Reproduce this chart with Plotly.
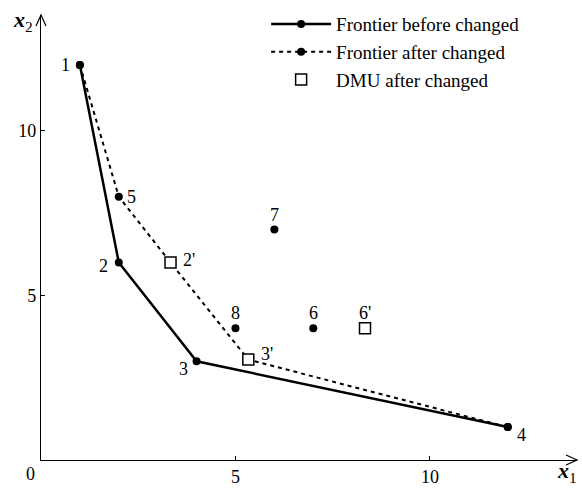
import plotly.graph_objects as go

# Data
before_x = [1, 2, 4, 12]
before_y = [12, 6, 3, 1]
after_x = [1, 2, 3.33, 5.33, 12]
after_y = [12, 8, 6, 3.05, 1]
dmu_new_x = [3.33, 5.33, 8.33]
dmu_new_y = [6, 3.05, 4]
other_x = [5, 6, 7]
other_y = [4, 7, 4]

label_text = ["1", "2", "3", "4", "5", "2'", "3'", "6'", "8", "7", "6"]
label_x = [1, 2, 4, 12, 2, 3.33, 5.33, 8.33, 5, 6, 7]
label_y = [12, 6, 3, 1, 8, 6, 3.05, 4, 4, 7, 4]
label_dx = [-14, -15, -13, 14, 13, 18, 19, 0, 0, 0, 0]
label_dy = [0, -3, -8, -8, 0, 3, 6, 15, 15, 15, 15]

SERIF = "Liberation Serif"
fig = go.Figure()

fig.add_trace(go.Scatter(
    x=before_x, y=before_y, mode="lines+markers", name="Frontier before changed",
    line=dict(color="black", width=2.5), marker=dict(color="black", size=8)))
fig.add_trace(go.Scatter(
    x=after_x, y=after_y, mode="lines+markers", name="Frontier after changed",
    line=dict(color="black", width=2, dash="4px,4px"),
    marker=dict(color="black", size=8)))
fig.add_trace(go.Scatter(
    x=other_x, y=other_y, mode="markers", showlegend=False,
    marker=dict(color="black", size=8)))
fig.add_trace(go.Scatter(
    x=dmu_new_x, y=dmu_new_y, mode="markers", name="DMU after changed",
    marker=dict(symbol="square", color="white", size=11,
                line=dict(color="black", width=1.5))))

for t, x, y, dx, dy in zip(label_text, label_x, label_y, label_dx, label_dy):
    fig.add_annotation(x=x, y=y, text=t, showarrow=False, xshift=dx, yshift=dy,
                       font=dict(family=SERIF, size=18, color="black"))

# origin label and axis titles
fig.add_annotation(x=0, y=0, xref="x", yref="y", text="0", showarrow=False,
                   xshift=-11, yshift=-14, font=dict(family=SERIF, size=18, color="black"))
fig.add_annotation(x=0, y=1, xref="paper", yref="paper", text="<b><i>x</i></b><sub>2</sub>",
                   showarrow=False, xshift=-30, yshift=10,
                   font=dict(family=SERIF, size=22, color="black"))
fig.add_annotation(x=1, y=0, xref="paper", yref="paper", text="<b><i>x</i></b><sub>1</sub>",
                   showarrow=False, xshift=2, yshift=-28,
                   font=dict(family=SERIF, size=22, color="black"))

# axis arrow heads
fig.add_shape(type="path", xref="paper", yref="paper", xsizemode="pixel", ysizemode="pixel",
              xanchor=1, yanchor=0, path="M -11,-5 L 0,0 L -11,5",
              line=dict(color="black", width=1.2))
fig.add_shape(type="path", xref="paper", yref="paper", xsizemode="pixel", ysizemode="pixel",
              xanchor=0, yanchor=1, path="M -5,-11 L 0,0 L 5,-11",
              line=dict(color="black", width=1.2))

axis_common = dict(showgrid=False, zeroline=False, showline=True, linecolor="black",
                   linewidth=1.3, ticks="inside", ticklen=4, tickcolor="black",
                   tickfont=dict(family=SERIF, size=18, color="black"))
fig.update_xaxes(range=[0, 13.78], tickvals=[5, 10], **axis_common)
fig.update_yaxes(range=[0, 13.52], tickvals=[5, 10], **axis_common)

fig.update_layout(
    width=582, height=494,
    margin=dict(l=41, r=5, t=11, b=34),
    plot_bgcolor="white", paper_bgcolor="white",
    legend=dict(x=0.42, y=1.022, xanchor="left", yanchor="top",
                font=dict(family=SERIF, size=19, color="black"),
                bgcolor="rgba(0,0,0,0)", itemwidth=60, tracegroupgap=0),
)

fig.write_html("out.html", config={"displayModeBar": False},
               post_script="document.body.style.margin='0';document.body.style.padding='0';")
